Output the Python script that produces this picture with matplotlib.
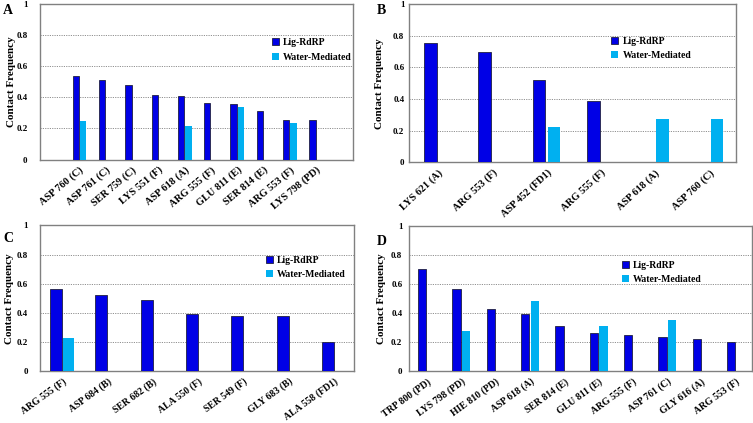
import matplotlib.pyplot as plt
import numpy as np

plt.rcParams['font.family'] = ['Liberation Serif', 'DejaVu Serif']
plt.rcParams['font.weight'] = 'bold'

# ---------------- data ----------------
a_labels = ["ASP 760 (C)", "ASP 761 (C)", "SER 759 (C)", "LYS 551 (F)", "ASP 618 (A)",
            "ARG 555 (F)", "GLU 811 (E)", "SER 814 (E)", "ARG 553 (F)", "LYS 798 (PD)"]
a_lig = [0.534, 0.509, 0.479, 0.412, 0.406, 0.363, 0.356, 0.311, 0.253, 0.253]
a_water = [0.245, None, None, None, 0.215, None, 0.335, None, 0.234, None]

b_labels = ["LYS 621 (A)", "ARG 553 (F)", "ASP 452 (FD1)", "ARG 555 (F)", "ASP 618 (A)", "ASP 760 (C)"]
b_lig = [0.756, 0.697, 0.518, 0.385, None, None]
b_water = [None, None, 0.223, None, 0.276, 0.276]

c_labels = ["ARG 555 (F)", "ASP 684 (B)", "SER 682 (B)", "ALA 550 (F)", "SER 549 (F)",
            "GLY 683 (B)", "ALA 558 (FD1)"]
c_lig = [0.564, 0.521, 0.491, 0.390, 0.381, 0.377, 0.203]
c_water = [0.226, None, None, None, None, None, None]

d_labels = ["TRP 800 (PD)", "LYS 798 (PD)", "HIE 810 (PD)", "ASP 618 (A)", "SER 814 (E)",
            "GLU 811 (E)", "ARG 555 (F)", "ASP 761 (C)", "GLY 616 (A)", "ARG 553 (F)"]
d_lig = [0.703, 0.568, 0.432, 0.395, 0.311, 0.267, 0.247, 0.237, 0.219, 0.201]
d_water = [None, 0.274, None, 0.484, None, 0.315, None, 0.352, None, None]

DARK = '#0000e6'
LIGHT = '#00b0f0'
W, H = 753, 423


def px_axes(fig, left, right, top, bottom):
    # axes rectangle given in pixel coordinates of the reference
    return fig.add_axes([left / W, 1 - bottom / H, (right - left) / W, (bottom - top) / H])


def draw_panel(ax, labels, lig, water, xlim, letter, letter_xy, leg_xy,
               ytick_pad, ylab_x, rot, width=0.24, gap=0.04, xfs=7.4):
    x = np.arange(len(labels))
    off = (width + gap) / 2
    xl = [i for i, v in zip(x, lig) if v is not None]
    yl = [v for v in lig if v is not None]
    xw = [i for i, v in zip(x, water) if v is not None]
    yw = [v for v in water if v is not None]
    ax.bar(np.array(xl) - off, yl, width=width, color=DARK, edgecolor='#202040',
           linewidth=0.6, zorder=3, label='Lig-RdRP')
    ax.bar(np.array(xw) + off, yw, width=width, color=LIGHT, edgecolor='none',
           zorder=3, label='Water-Mediated')

    ax.set_xlim(*xlim)
    ax.set_ylim(0, 1)
    ax.set_yticks([0, 0.2, 0.4, 0.6, 0.8, 1])
    ax.set_yticklabels(['0', '0.2', '0.4', '0.6', '0.8', '1'], fontsize=6.5, fontweight='bold')
    ax.tick_params(axis='y', length=0, pad=ytick_pad)
    ax.set_xticks(x)
    ax.set_xticklabels(labels, rotation=rot, ha='right', va='top', rotation_mode='anchor',
                       fontsize=xfs, fontweight='bold')
    ax.tick_params(axis='x', length=0, pad=4)
    for g in [0.2, 0.4, 0.6, 0.8]:
        ax.axhline(g, color='#909090', linestyle=(0, (1.2, 1.2)), linewidth=0.7, zorder=1)
    for s in ax.spines.values():
        s.set_color('#808080')
        s.set_linewidth(1.0)
    ax.set_ylabel('Contact Frequency', fontsize=8, fontweight='bold')
    ax.yaxis.set_label_coords(ylab_x, 0.5)

    ax.legend(loc='center left', bbox_to_anchor=leg_xy, frameon=False,
              prop={'weight': 'bold', 'size': 7},
              handlelength=0.75, handleheight=0.75, handletextpad=0.4,
              labelspacing=0.55, borderpad=0, borderaxespad=0)
    ax.figure.text(letter_xy[0] / W, 1 - letter_xy[1] / H, letter, fontsize=10,
                   fontweight='bold', ha='left', va='top')


fig = plt.figure(figsize=(W / 100, H / 100), dpi=100)

ax_a = px_axes(fig, 40, 353, 4, 159.5)
draw_panel(ax_a, a_labels, a_lig, a_water, (-1.5, 10.4), 'A', (3, 4),
           (0.741, 0.705), 9, -0.077, 40)

ax_b = px_axes(fig, 409.3, 736, 4, 162.3)
draw_panel(ax_b, b_labels, b_lig, b_water, (-0.53, 5.49), 'B', (377, 4),
           (0.618, 0.72), 3.6, -0.076, 43, width=0.23, gap=0.05)

ax_c = px_axes(fig, 40, 354, 225.3, 371.3)
draw_panel(ax_c, c_labels, c_lig, c_water, (-0.49, 6.43), 'C', (3, 232),
           (0.72, 0.71), 8.8, -0.083, 36, width=0.26, gap=0.02, xfs=7.0)

ax_d = px_axes(fig, 409.3, 752, 226, 371.3)
draw_panel(ax_d, d_labels, d_lig, d_water, (-0.52, 9.47), 'D', (377, 235),
           (0.62, 0.68), 5, -0.069, 36, width=0.243, gap=0.04, xfs=7.0)

fig.savefig('out.png', dpi=100)
